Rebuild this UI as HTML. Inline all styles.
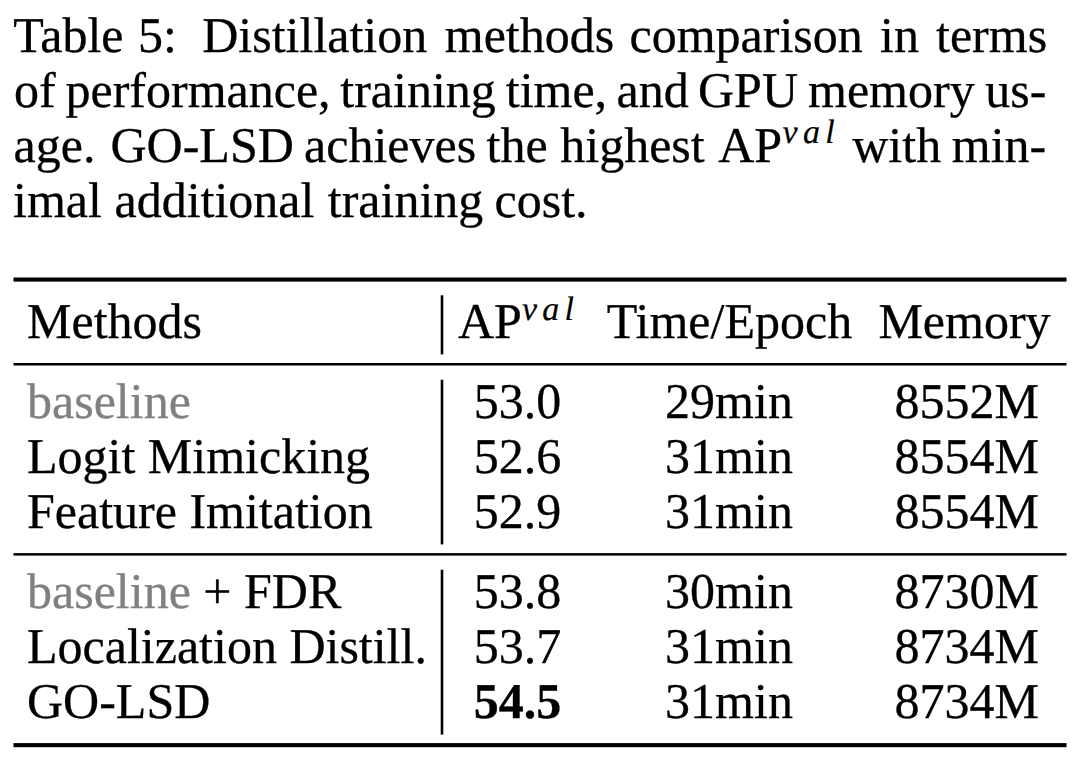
<!DOCTYPE html>
<html><head><meta charset="utf-8">
<style>
html,body{margin:0;padding:0;background:#fff;}
body{text-rendering:geometricPrecision;width:1080px;height:767px;overflow:hidden;position:relative;font-family:"Liberation Serif",serif;color:#000;-webkit-text-stroke:0.3px #000;}
.t{position:absolute;font-size:50px;line-height:55px;white-space:nowrap;}
.w{position:absolute;font-size:50px;line-height:55px;white-space:nowrap;}
.w.v{font-style:italic;font-size:34px;letter-spacing:5.3px;-webkit-text-stroke-width:0.2px;}
.c{transform:translateX(-50%);}
.g{color:#808080;-webkit-text-stroke-color:#808080;}
.b{font-weight:bold;}
sup.v{font-style:italic;font-size:34px;vertical-align:0;position:relative;top:-18px;letter-spacing:5.3px;line-height:0;-webkit-text-stroke-width:0.2px;}
svg{position:absolute;left:0;top:0;}
</style></head><body>
<span class="w" style="left:13.24px;top:8.32px">Table</span>
<span class="w" style="left:138.00px;top:8.32px">5:</span>
<span class="w" style="left:202.25px;top:8.32px">Distillation</span>
<span class="w" style="left:444.75px;top:8.32px">methods</span>
<span class="w" style="left:629.50px;top:8.32px">comparison</span>
<span class="w" style="left:880.00px;top:8.32px">in</span>
<span class="w" style="left:936.00px;top:8.32px">terms</span>
<span class="w" style="left:14.00px;top:63.22px">of</span>
<span class="w" style="left:65.50px;top:63.22px">performance,</span>
<span class="w" style="left:340.25px;top:63.22px">training</span>
<span class="w" style="left:505.75px;top:63.22px">time,</span>
<span class="w" style="left:616.50px;top:63.22px">and</span>
<span class="w" style="left:698.00px;top:63.22px">GPU</span>
<span class="w" style="left:808.00px;top:63.22px">memory</span>
<span class="w" style="left:985.25px;top:63.22px">us-</span>
<span class="w" style="left:13.50px;top:118.32px">age.</span>
<span class="w" style="left:110.50px;top:118.32px">GO-LSD</span>
<span class="w" style="left:304.00px;top:118.32px">achieves</span>
<span class="w" style="left:486.50px;top:118.32px">the</span>
<span class="w" style="left:560.25px;top:118.32px">highest</span>
<span class="w" style="left:718.25px;top:118.32px">AP</span>
<span class="w v" style="left:782.60px;top:105.30px">val</span>
<span class="w" style="left:852.25px;top:118.32px">with</span>
<span class="w" style="left:951.75px;top:118.32px">min-</span>
<span class="w" style="left:13.00px;top:173.32px">imal</span>
<span class="w" style="left:114.50px;top:173.32px">additional</span>
<span class="w" style="left:327.75px;top:173.32px">training</span>
<span class="w" style="left:494.50px;top:173.32px">cost.</span>

<svg width="1080" height="767">
<rect x="13.5" y="277.5" width="1053" height="4.1" fill="#000"/>
<rect x="13.5" y="363.0" width="1053" height="2.5" fill="#000"/>
<rect x="13.5" y="553.1" width="1053" height="2.5" fill="#000"/>
<rect x="13.5" y="743.1" width="1053" height="4.1" fill="#000"/>
<rect x="440.7" y="295.3" width="2.6" height="59.1" fill="#000"/>
<rect x="440.7" y="379.7" width="2.6" height="164.7" fill="#000"/>
<rect x="440.7" y="569.7" width="2.6" height="164.9" fill="#000"/>
</svg>

<div class="t" style="left:27px;top:293.6px">Methods</div>
<div class="t" style="left:458px;top:293.6px">AP<sup class="v">val</sup></div>
<div class="t c" style="left:729.5px;top:293.6px">Time/Epoch</div>
<div class="t c" style="left:964.5px;top:293.6px">Memory</div>

<div class="t g" style="left:27px;top:374px">baseline</div>
<div class="t" style="left:27px;top:429px">Logit Mimicking</div>
<div class="t" style="left:27px;top:484px">Feature Imitation</div>
<div class="t c" style="left:517.6px;top:374px">53.0</div>
<div class="t c" style="left:517.6px;top:429px">52.6</div>
<div class="t c" style="left:517.6px;top:484px">52.9</div>
<div class="t c" style="left:729px;top:374px">29min</div>
<div class="t c" style="left:729px;top:429px">31min</div>
<div class="t c" style="left:729px;top:484px">31min</div>
<div class="t c" style="left:966.8px;top:374px">8552M</div>
<div class="t c" style="left:966.8px;top:429px">8554M</div>
<div class="t c" style="left:966.8px;top:484px">8554M</div>

<div class="t" style="left:27px;top:563.5px"><span class="g">baseline</span> + FDR</div>
<div class="t" style="left:27px;top:618.5px">Localization Distill.</div>
<div class="t" style="left:27px;top:673.5px">GO-LSD</div>
<div class="t c" style="left:517.6px;top:563.5px">53.8</div>
<div class="t c" style="left:517.6px;top:618.5px">53.7</div>
<div class="t c b" style="left:517.6px;top:673.5px">54.5</div>
<div class="t c" style="left:729px;top:563.5px">30min</div>
<div class="t c" style="left:729px;top:618.5px">31min</div>
<div class="t c" style="left:729px;top:673.5px">31min</div>
<div class="t c" style="left:966.8px;top:563.5px">8730M</div>
<div class="t c" style="left:966.8px;top:618.5px">8734M</div>
<div class="t c" style="left:966.8px;top:673.5px">8734M</div>
</body></html>
